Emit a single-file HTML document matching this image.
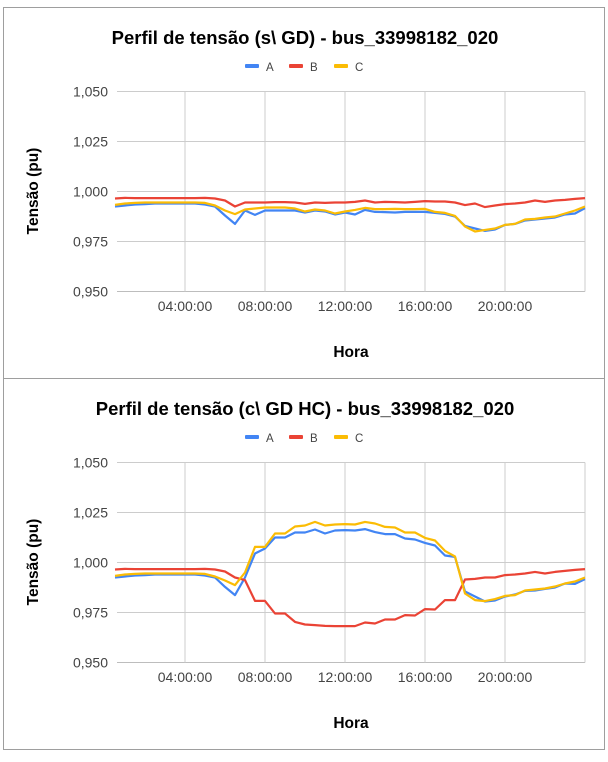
<!DOCTYPE html>
<html><head><meta charset="utf-8">
<style>
body{margin:0;background:#fff;font-family:"Liberation Sans",Arial,sans-serif;}
svg text{font-family:"Liberation Sans",Arial,sans-serif;}
</style></head>
<body>
<svg id="root" width="608" height="757" xmlns="http://www.w3.org/2000/svg"></svg>
<script>
const hours = [];
for (let i = 1; i <= 48; i++) hours.push(i * 0.5);
const xTickLabels = ["04:00:00","08:00:00","12:00:00","16:00:00","20:00:00"];
const xTickHours = [4,8,12,16,20];
const yTickValues = [0.95,0.975,1.0,1.025,1.05];
const yTickLabels = ["0,950","0,975","1,000","1,025","1,050"];
const seriesNames = ["A","B","C"];
const seriesColors = ["#4285f4","#ea4335","#fbbc04"];

const topA = [0.9925,0.993,0.9935,0.9937,0.994,0.994,0.994,0.994,0.994,0.9935,0.9925,0.988,0.9838,0.9905,0.9883,0.9905,0.9905,0.9905,0.9905,0.9895,0.9905,0.99,0.9885,0.9895,0.9885,0.9908,0.9898,0.9897,0.9895,0.9898,0.9898,0.9898,0.9893,0.9888,0.9875,0.9828,0.9815,0.9803,0.981,0.9833,0.9838,0.9855,0.986,0.9865,0.987,0.9885,0.989,0.9917];
const topB = [0.9965,0.9968,0.9967,0.9967,0.9967,0.9967,0.9967,0.9967,0.9967,0.9968,0.9965,0.9955,0.9925,0.9945,0.9945,0.9945,0.9947,0.9947,0.9945,0.9938,0.9945,0.9943,0.9945,0.9945,0.9948,0.9955,0.9945,0.9948,0.9947,0.9945,0.9948,0.9952,0.995,0.995,0.9945,0.9932,0.994,0.9922,0.993,0.9937,0.994,0.9945,0.9955,0.9948,0.9955,0.9958,0.9963,0.9967];
const topC = [0.9933,0.994,0.9943,0.9945,0.9945,0.9945,0.9945,0.9945,0.9945,0.9943,0.993,0.9905,0.9887,0.991,0.9915,0.992,0.992,0.992,0.9915,0.99,0.991,0.9905,0.989,0.99,0.9908,0.9918,0.9912,0.9912,0.9913,0.9912,0.9912,0.9913,0.9898,0.9893,0.9878,0.9825,0.98,0.9808,0.9815,0.9833,0.9838,0.986,0.9863,0.987,0.9875,0.989,0.9905,0.9925];

const botA = [0.9925,0.993,0.9935,0.9937,0.994,0.994,0.994,0.994,0.994,0.9935,0.9925,0.9878,0.9837,0.9925,1.0045,1.007,1.0125,1.0125,1.015,1.015,1.0165,1.0145,1.016,1.0162,1.016,1.0167,1.0152,1.0142,1.0142,1.012,1.0115,1.0098,1.0085,1.0035,1.0028,0.9855,0.983,0.9805,0.981,0.983,0.984,0.9858,0.986,0.9868,0.9875,0.9895,0.9893,0.9917];
const botB = [0.9965,0.9968,0.9967,0.9967,0.9967,0.9967,0.9967,0.9967,0.9967,0.9968,0.9965,0.9955,0.9925,0.9912,0.9808,0.9808,0.9745,0.9745,0.9703,0.969,0.9687,0.9683,0.9682,0.9682,0.9682,0.97,0.9695,0.9715,0.9715,0.9737,0.9735,0.9767,0.9765,0.9812,0.9812,0.9915,0.9918,0.9925,0.9925,0.9937,0.994,0.9945,0.9953,0.9945,0.9953,0.9958,0.9963,0.9967];
const botC = [0.9933,0.994,0.9943,0.9945,0.9945,0.9945,0.9945,0.9945,0.9945,0.9943,0.993,0.991,0.9887,0.995,1.0078,1.0078,1.0145,1.0145,1.018,1.0185,1.0203,1.0185,1.019,1.0192,1.019,1.0203,1.0195,1.0178,1.0175,1.015,1.015,1.0123,1.011,1.0058,1.003,0.9845,0.9812,0.9807,0.9817,0.9833,0.9837,0.986,0.9865,0.987,0.988,0.9895,0.9905,0.9925];

const NS = "http://www.w3.org/2000/svg";
const root = document.getElementById('root');
function mk(tag, attrs, parent) {
  const e = document.createElementNS(NS, tag);
  for (const k in attrs) e.setAttribute(k, attrs[k]);
  (parent || root).appendChild(e);
  return e;
}

function drawChart(oy, titleText, series, prefix) {
  const g = mk('g', {});
  
  
  const box = mk('rect', {x:3.5, y:oy+7.5, width:601, height:371, fill:'#fff', stroke:'#9e9e9e', 'stroke-width':1}, g);
  
  
  const px0 = 117, px1 = 585;
  const xs = h => 105 + h * 20;
  const ys = v => oy + 191.5 - (v - 1) * 2000;
  // gridlines
  yTickValues.forEach((v, i) => {
    const l = mk('line', {x1:px0, x2:px1, y1:ys(v), y2:ys(v), stroke: i===0 ? '#bdbdbd' : '#cccccc', 'stroke-width':1}, g);
    
    
    const t = mk('text', {x:108, y:ys(v)+5, 'text-anchor':'end', 'font-size':14, fill:'#444'}, g);
    t.textContent = yTickLabels[i];
    
    
  });
  xTickHours.concat([24]).forEach(h => {
    const l = mk('line', {x1:xs(h), x2:xs(h), y1:ys(1.05), y2:ys(0.95), stroke:'#cccccc', 'stroke-width':1}, g);
    
    
  });
  xTickHours.forEach((h, i) => {
    const t = mk('text', {x:xs(h), y:oy+311, 'text-anchor':'middle', 'font-size':14, fill:'#444'}, g);
    t.textContent = xTickLabels[i];
    
    
  });
  const title = mk('text', {x:305, y:oy+44, 'text-anchor':'middle', 'font-size':18.5, 'font-weight':'bold', fill:'#000'}, g);
  title.textContent = titleText;
  
  
  const xt = mk('text', {x:351, y:oy+357, 'text-anchor':'middle', 'font-size':15.5, 'font-weight':'bold', fill:'#000'}, g);
  xt.textContent = 'Hora';
  
  
  const yt = mk('text', {x:0, y:0, 'text-anchor':'middle', 'font-size':15.5, 'font-weight':'bold', fill:'#000', transform:'translate(38,'+(oy+191)+') rotate(-90)'}, g);
  yt.textContent = 'Tensão (pu)';
  
  
  // legend
  const lx = [245, 289, 334];
  seriesNames.forEach((n, i) => {
    const lg = mk('g', {}, g);
    
    
    mk('rect', {x:lx[i], y:oy+64, width:14, height:4, rx:1, fill:seriesColors[i]}, lg);
    const t = mk('text', {x:lx[i]+21, y:oy+71, 'font-size':11.5, fill:'#444'}, lg);
    t.textContent = n;
  });
  // series
  series.forEach((arr, si) => {
    const d = arr.map((v, i) => (i ? 'L' : 'M') + xs(hours[i]).toFixed(1) + ',' + ys(v).toFixed(1)).join(' ');
    const p = mk('path', {d:d, fill:'none', stroke:seriesColors[si], 'stroke-width':2.2, 'stroke-linejoin':'round'}, g);
    
    
  });
}
drawChart(0, 'Perfil de tensão (s\\ GD) - bus_33998182_020', [topA, topB, topC], 'top');
drawChart(371, 'Perfil de tensão (c\\ GD HC) - bus_33998182_020', [botA, botB, botC], 'bottom');
</script>
</body></html>
